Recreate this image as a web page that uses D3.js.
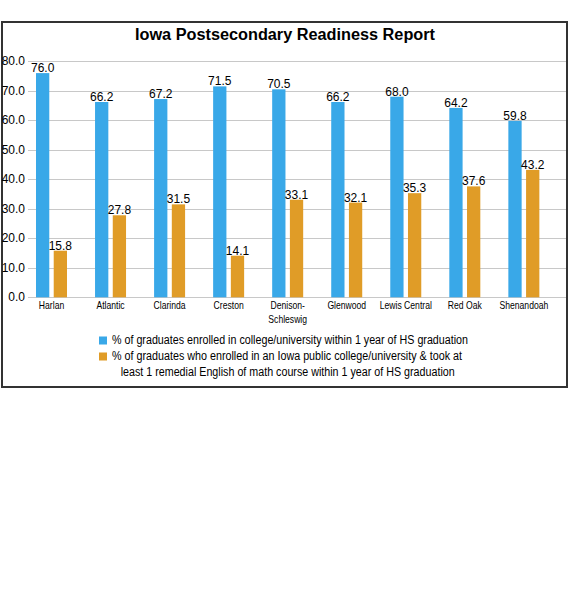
<!DOCTYPE html>
<html>
<head>
<meta charset="utf-8">
<script src="https://cdn.jsdelivr.net/npm/d3@7"></script>
<style>
  body { margin: 0; background: #fff; }
  svg text { font-family: "Liberation Sans", Arial, sans-serif; fill: #000; }
</style>
</head>
<body>
<div class="container"></div>
<script>
const width = 570;
const height = 600;

const schools = ['Harlan', 'Atlantic', 'Clarinda', 'Creston', 'Denison-Schleswig', 'Glenwood', 'Lewis Central', 'Red Oak', 'Shenandoah'];
const enrolled = [76.0, 66.2, 67.2, 71.5, 70.5, 66.2, 68.0, 64.2, 59.8];
const remedial = [15.8, 27.8, 31.5, 14.1, 33.1, 32.1, 35.3, 37.6, 43.2];
const yTicks = [0, 10, 20, 30, 40, 50, 60, 70, 80];
const seriesNames = [
    ['% of graduates enrolled in college/university within 1 year of HS graduation'],
    ['% of graduates who enrolled in an Iowa public college/university & took at',
     'least 1 remedial English of math course within 1 year of HS graduation']
];
const colors = ['#39a8e8', '#e09c27'];

const data = schools.map((s, i) => ({ school: s, values: [enrolled[i], remedial[i]] }));

const svg = d3.select('.container')
    .append('svg')
    .attr('width', width)
    .attr('height', height);

// frame
svg.append('rect')
    .attr('x', 2)
    .attr('y', 22)
    .attr('width', 565)
    .attr('height', 365)
    .style('fill', 'none')
    .style('stroke', '#333')
    .style('stroke-width', 2);

svg.append('text')
    .attr('x', 135)
    .attr('y', 40)
    .attr('textLength', 300)
    .attr('lengthAdjust', 'spacingAndGlyphs')
    .style('font-size', '16px')
    .style('font-weight', 'bold')
    .text('Iowa Postsecondary Readiness Report');

const y = d3.scaleLinear().domain([0, 80]).range([297.3, 61.3]);
const x0 = d3.scaleBand().domain(schools).range([22, 553.4]);
const x1 = d3.scaleBand().domain([0, 1]).range([14, 45]).paddingInner(0.25);

// grid
svg.append('g')
    .selectAll('line')
    .data(yTicks)
    .join('line')
    .attr('x1', 28)
    .attr('x2', 566)
    .attr('y1', d => Math.round(y(d)) + 0.5)
    .attr('y2', d => Math.round(y(d)) + 0.5)
    .style('stroke', '#c8c8c8');

svg.append('g')
    .selectAll('text')
    .data(yTicks)
    .join('text')
    .attr('x', 25)
    .attr('y', d => y(d) + 4)
    .attr('text-anchor', 'end')
    .style('font-size', '12px')
    .text(d => d.toFixed(1));

const G = svg.append('g');

const groups = G.selectAll('g')
    .data(data)
    .join('g')
    .attr('transform', d => 'translate(' + x0(d.school) + ',0)');

groups.selectAll('rect')
    .data(d => d.values)
    .join('rect')
    .attr('x', (d, i) => x1(i))
    .attr('y', d => y(d))
    .attr('width', x1.bandwidth())
    .attr('height', d => y(0) - y(d))
    .style('fill', (d, i) => colors[i]);

groups.selectAll('text.val')
    .data(d => d.values)
    .join('text')
    .attr('class', 'val')
    .attr('x', (d, i) => x1(i) + x1.bandwidth() / 2)
    .attr('y', d => y(d) - 1)
    .attr('text-anchor', 'middle')
    .style('font-size', '12px')
    .text(d => d.toFixed(1));

// category labels, squeezed like a narrow font
const mid = x0.bandwidth() / 2;
groups.append('g')
    .attr('transform', 'translate(' + mid + ',309) scale(0.82,1)')
    .append('text')
    .attr('text-anchor', 'middle')
    .style('font-size', '10.5px')
    .selectAll('tspan')
    .data(d => d.school === 'Denison-Schleswig' ? ['Denison-', 'Schleswig'] : [d.school])
    .join('tspan')
    .attr('x', 0)
    .attr('dy', (d, i) => i === 0 ? 0 : 14)
    .text(d => d);

// legend
const legend = svg.append('g');
const legendRows = [
    { y: 344, lines: [{ x: 112, len: 356 }] },
    { y: 360, lines: [{ x: 112, len: 350 }, { x: 120.7, len: 334 }] }
];

seriesNames.forEach((lines, i) => {
    const row = legendRows[i];
    legend.append('rect')
        .attr('x', 99)
        .attr('y', row.y - 7.5)
        .attr('width', 8)
        .attr('height', 8)
        .style('fill', colors[i]);
    lines.forEach((t, j) => {
        legend.append('text')
            .attr('x', row.lines[j].x)
            .attr('y', row.y + j * 15.5)
            .attr('textLength', row.lines[j].len)
            .attr('lengthAdjust', 'spacingAndGlyphs')
            .style('font-size', '12px')
            .text(t);
    });
});
</script>
</body>
</html>
